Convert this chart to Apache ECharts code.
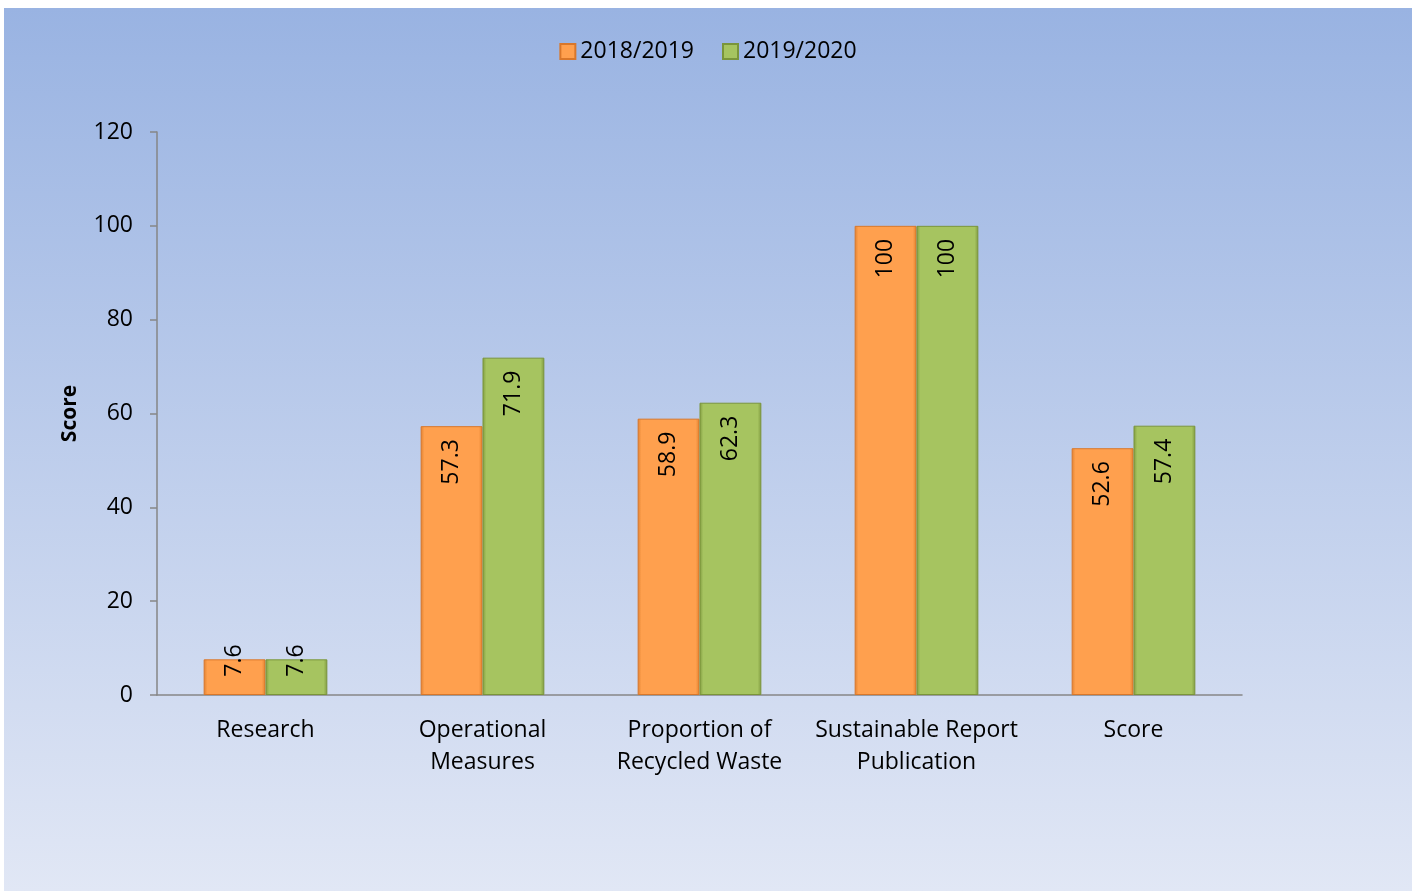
<!DOCTYPE html>
<html>
<head>
<meta charset="utf-8">
<script src="https://cdn.jsdelivr.net/npm/echarts@6/dist/echarts.min.js"></script>
<style>
  html, body { margin: 0; padding: 0; background: #ffffff; }
  #chart {
    position: absolute; left: 4px; top: 8px; width: 1408px; height: 883px;
    background: linear-gradient(to bottom, #99b3e2 0%, #e1e7f5 100%);
  }
</style>
</head>
<body>
<div id="chart"></div>
<script>
// data
var categories = ['Research', 'Operational\nMeasures', 'Proportion of\nRecycled Waste', 'Sustainable Report\nPublication', 'Score'];
var seriesNames = ['2018/2019', '2019/2020'];
var values1819 = [7.6, 57.3, 58.9, 100, 52.6];
var values1920 = [7.6, 71.9, 62.3, 100, 57.4];
var yTicks = { min: 0, max: 120, interval: 20 };

var FONT = 'Open Sans';
var FS = 23;

function bevel(mid, edge) {
  return new echarts.graphic.LinearGradient(0, 0, 1, 0, [
    { offset: 0, color: edge },
    { offset: 0.06, color: mid },
    { offset: 0.94, color: mid },
    { offset: 1, color: edge }
  ]);
}

function barData(vals) {
  // short bars: label spills over the top, like the original
  return vals.map(function (v) {
    return {
      value: v,
      label: { distance: v < 10 ? -15 : 13 }
    };
  });
}

var labelStyle = {
  show: true,
  position: 'insideTop',
  rotate: 90,
  align: 'right',
  verticalAlign: 'middle',
  fontFamily: FONT,
  fontSize: FS,
  color: '#000'
};

var chart = echarts.init(document.getElementById('chart'));
chart.setOption({
  backgroundColor: 'transparent',
  textStyle: { fontFamily: FONT },
  legend: {
    top: 27,
    left: 'center',
    itemWidth: 15,
    itemHeight: 15,
    itemGap: 28,
    icon: 'rect',
    textStyle: { fontSize: FS, color: '#000', fontFamily: FONT },
    data: seriesNames
  },
  grid: { left: 153, right: 170, top: 124, bottom: 196 },
  xAxis: {
    type: 'category',
    data: categories,
    axisLine: { lineStyle: { color: '#868686', width: 1.5 } },
    axisTick: { show: false },
    axisLabel: { color: '#000', fontSize: FS, fontFamily: FONT, margin: 19, lineHeight: 32, interval: 0 }
  },
  yAxis: {
    type: 'value',
    min: yTicks.min,
    max: yTicks.max,
    interval: yTicks.interval,
    name: 'Score',
    nameLocation: 'middle',
    nameGap: 76,
    nameTextStyle: { fontWeight: 'bold', fontSize: 21, color: '#000', fontFamily: FONT },
    axisLine: { show: true, lineStyle: { color: '#868686', width: 1.5 } },
    axisTick: { show: true, length: 7, lineStyle: { color: '#868686', width: 1.5 } },
    axisLabel: { color: '#000', fontSize: FS, fontFamily: FONT, margin: 24 },
    splitLine: { show: false }
  },
  series: [
    {
      name: seriesNames[0],
      type: 'bar',
      data: barData(values1819),
      barGap: '0%',
      barCategoryGap: '43%',
      itemStyle: { color: bevel('#ffa04e', '#e0802e'), borderColor: '#d9772a', borderWidth: 1 },
      label: labelStyle
    },
    {
      name: seriesNames[1],
      type: 'bar',
      data: barData(values1920),
      itemStyle: { color: bevel('#a6c460', '#7f9a3f'), borderColor: '#7a953a', borderWidth: 1 },
      label: labelStyle
    }
  ]
});
</script>
</body>
</html>
